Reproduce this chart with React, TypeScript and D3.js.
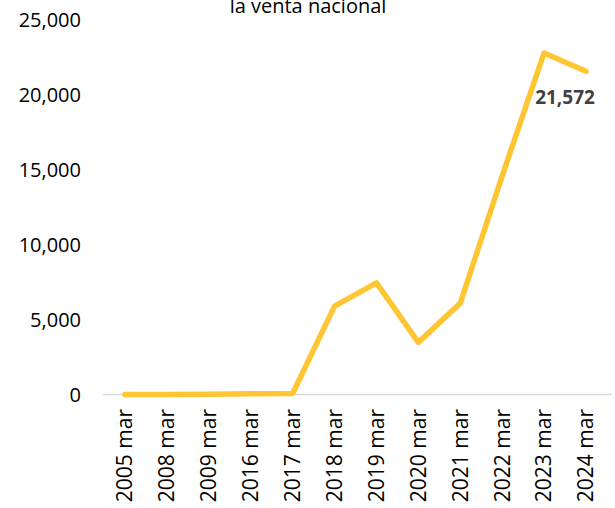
import React, { useEffect, useRef } from "react"
import * as d3 from "d3"

const years = ["2005 mar", "2008 mar", "2009 mar", "2016 mar", "2017 mar", "2018 mar", "2019 mar", "2020 mar", "2021 mar", "2022 mar", "2023 mar", "2024 mar"]
const sales = [0, 5, 15, 50, 70, 5900, 7450, 3480, 6100, 14600, 22800, 21572]
const yTicks = [0, 5000, 10000, 15000, 20000, 25000]
const title = "la venta nacional"

const W = 615
const H = 508

const App = () => {
	const ref = useRef<SVGSVGElement>(null)

	useEffect(() => {
		document.body.style.margin = "0"
		const font = "'Open Sans', sans-serif"

		const x = d3.scalePoint().domain(years).range([125, 586])
		const y = d3.scaleLinear().domain([0, 25000]).range([394.5, 20])

		const svg = d3.select(ref.current)
		svg.selectAll("*").remove()

		// title (cut off at the top in the original)
		svg
			.append("text")
			.attr("x", 308)
			.attr("y", 13)
			.attr("text-anchor", "middle")
			.style("font-family", font)
			.style("font-size", "20px")
			.style("fill", "#000")
			.text(title)

		// baseline
		svg
			.append("line")
			.attr("x1", 103)
			.attr("x2", 612)
			.attr("y1", y(0))
			.attr("y2", y(0))
			.attr("stroke", "#d9d9d9")
			.attr("stroke-width", 1.5)

		// y labels
		svg
			.selectAll("text.ytick")
			.data(yTicks)
			.enter()
			.append("text")
			.attr("class", "ytick")
			.attr("x", 81)
			.attr("y", d => y(d))
			.attr("dy", "0.35em")
			.attr("text-anchor", "end")
			.style("font-family", font)
			.style("font-size", "20px")
			.style("fill", "#000")
			.text(d => d3.format(",")(d))

		// x labels, rotated
		svg
			.selectAll("text.xtick")
			.data(years)
			.enter()
			.append("text")
			.attr("class", "xtick")
			.attr("transform", d => `translate(${x(d)}, 409) rotate(-90)`)
			.attr("dy", "0.35em")
			.attr("text-anchor", "end")
			.style("font-family", font)
			.style("font-size", "21px")
			.style("fill", "#000")
			.text(d => d)

		// line
		svg
			.append("path")
			.datum(sales)
			.attr("fill", "none")
			.attr("stroke", "#ffc533")
			.attr("stroke-width", 5.5)
			.attr("stroke-linecap", "round")
			.attr("stroke-linejoin", "round")
			.attr(
				"d",
				d3
					.line<number>()
					.x((_, i) => x(years[i]) as number)
					.y(d => y(d)),
			)

		// last value label
		const last = sales[sales.length - 1]
		svg
			.append("text")
			.attr("x", (x(years[years.length - 1]) as number) - 21)
			.attr("y", y(last) + 33)
			.attr("text-anchor", "middle")
			.style("font-family", font)
			.style("font-size", "19px")
			.style("font-weight", "bold")
			.style("fill", "#404040")
			.text(d3.format(",")(last))
	}, [])

	return <svg ref={ref} width={W} height={H} style={{ display: "block" }}></svg>
}

export default App
